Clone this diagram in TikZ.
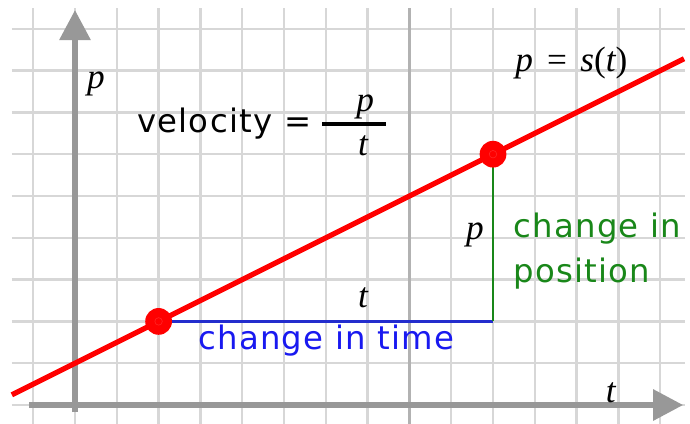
\documentclass[tikz,border=0pt]{standalone}
\usepackage{fontspec}
\setmainfont{Liberation Serif}
\newfontfamily\wordfont[LetterSpace=4]{DejaVu Sans}
\usetikzlibrary{arrows.meta}
\definecolor{gridgray}{RGB}{215,215,215}
\definecolor{midgray}{RGB}{178,178,178}
\definecolor{axisgray}{RGB}{152,152,152}
\definecolor{timeblue}{RGB}{35,45,205}
\definecolor{textblue}{RGB}{25,25,240}
\definecolor{posgreen}{RGB}{25,135,25}
\tikzset{
  gridline/.style={gridgray,line width=1.6pt},
  axis/.style={axisgray,line width=4pt,-{Triangle[length=7.2mm,width=7.2mm]}},
  word/.style={font=\wordfont\fontsize{22}{26}\selectfont,inner sep=0pt,anchor=base west},
  sym/.style={font=\itshape\fontsize{24}{28}\selectfont,inner sep=0pt,anchor=base},
  dot/.style={line width=0.4pt}
}
\begin{document}
\begin{tikzpicture}
  \useasboundingbox (-1.794,-0.431) rectangle (14.713,9.689);
  % grid
  \foreach \y in {0,...,9}
    \draw[gridline] (-1.51,\y) -- (14.6,\y);
  \foreach \x in {-1,...,14}
    \draw[gridline] (\x,-0.5) -- (\x,9.5);
  \draw[gridline,midgray] (8,-0.5) -- (8,9.5);
  % axes
  \draw[axis] (-1.1,0) -- (14.55,0);
  \draw[axis] (0,-0.17) -- (0,9.45);
  \node[sym] (tlabel) at (12.82,0.07) {t};
  \node[sym] (plabel) at (0.5,7.58) {p};
  % line p = s(t)
  \coordinate (start) at (2,2);
  \coordinate (stop) at (10,6);
  \coordinate (corner) at (10,2);
  \draw[red,line width=3.6pt] (-1.51,0.245) -- (14.57,8.285);
  \draw[timeblue,line width=1.6pt] (start) -- (corner);
  \draw[posgreen,line width=1.4pt] (corner) -- (stop);
  \foreach \pt in {start,stop} {
    \fill[red] (\pt) circle (0.32);
    \draw[dot,red!85!white] (\pt) circle (0.09);
  }
  % labels
  \node[sym,anchor=base west] (curve) at (10.53,7.97) {p\,\,=\,\,s{\upshape(}t{\upshape)}};
  \node[word] (velocity) at (1.48,6.51) {velocity =};
  \node[sym] (fracp) at (6.94,7.01) {p};
  \node[sym] (fract) at (6.89,5.98) {t};
  \draw[line width=2.8pt] (5.91,6.72) -- (7.44,6.72);
  \node[sym] (dt) at (6.89,2.34) {t};
  \node[word,textblue] (timeword) at (2.94,1.32) {change in time};
  \node[sym] (dp) at (9.57,3.95) {p};
  \node[word,posgreen] (posword) at (10.48,4.0) {change in};
  \node[word,posgreen] (posword2) at (10.48,2.94) {position};
\end{tikzpicture}
\end{document}
